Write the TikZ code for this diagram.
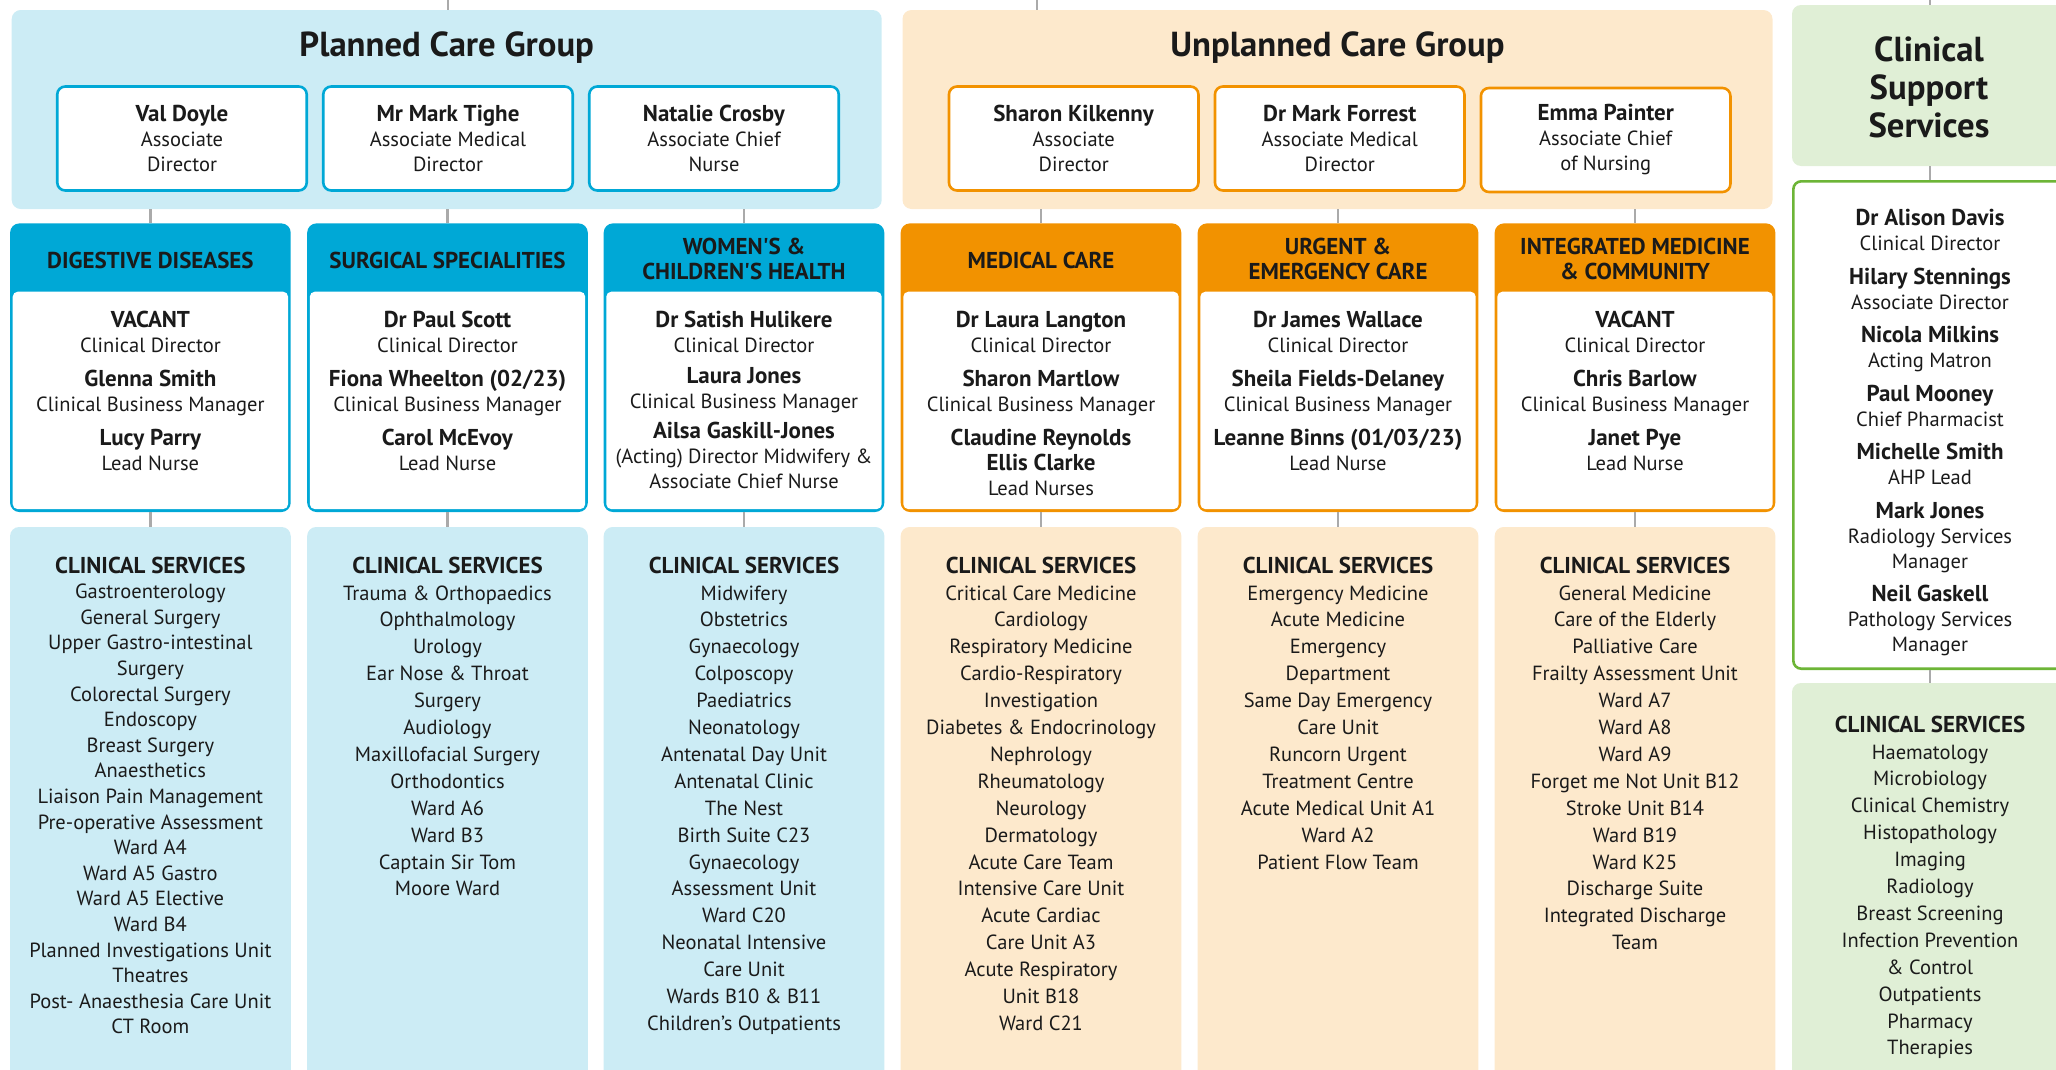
\documentclass[tikz,border=0pt]{standalone}
\usepackage{fontspec}
\setmainfont{PT Sans}[Ligatures=TeXOff, BoldFeatures={Scale=1.12}]
\usetikzlibrary{positioning}

\definecolor{planbg}{HTML}{CCECF5}
\definecolor{planhd}{HTML}{00A8D6}
\definecolor{unplbg}{HTML}{FDE9CC}
\definecolor{unplhd}{HTML}{F29200}
\definecolor{suppbg}{HTML}{E0EFD6}
\definecolor{suppln}{HTML}{6DB537}
\definecolor{linkgray}{HTML}{AAAAAA}
\definecolor{ink}{HTML}{1A1A1A}

\tikzset{
    linkline/.style={linkgray, line width=2.2pt},
    groupbox/.style={fill=#1, rounded corners=9pt, inner sep=0pt,
        minimum width=870pt, minimum height=199pt},
    grouptitle/.style={inner sep=0pt, text=ink, align=center,
        font=\fontsize{31}{38}\selectfont\bfseries},
    leadbox/.style={draw=#1, fill=white, line width=2.6pt, rounded corners=8pt,
        inner sep=0pt, minimum width=249.5pt, minimum height=104pt,
        align=center, text=ink, font=\fontsize{20.5}{25}\selectfont},
    divframe/.style={draw=#1, fill=#1, line width=2.6pt, rounded corners=8pt,
        inner sep=0pt, minimum width=278pt, minimum height=286pt},
    divbody/.style={fill=white, rounded corners=5pt, inner sep=0pt,
        minimum width=275.4pt, minimum height=217.4pt},
    divhead/.style={inner sep=0pt, align=center, text=ink,
        font=\fontsize{20.5}{25.7}\selectfont\bfseries},
    servbox/.style={fill=#1, rounded corners=9pt, inner sep=0pt,
        minimum width=280.7pt, minimum height=560pt},
    people/.style={anchor=north, inner sep=0pt, align=center, text=ink,
        font=\fontsize{20.5}{25}\selectfont},
    servlist/.style={anchor=north, inner sep=0pt, align=center, text=ink,
        font=\fontsize{20.5}{#1}\selectfont},
    servlist/.default=26.9,
}

\begin{document}
\begin{tikzpicture}[x=1pt,y=1pt]
\useasboundingbox (0,0) rectangle (2056,-1069);
\clip (0,0) rectangle (2056,-1069);

% care groups
\node[groupbox=planbg] (pcg) at (446.7,-109.5) {};
\node[grouptitle, anchor=base] (pcgt) at (446.7,-56.7) {Planned Care Group};
\node[groupbox=unplbg] (ucg) at (1337.5,-109.5) {};
\node[grouptitle, anchor=base] (ucgt) at (1337.5,-56.7) {Unplanned Care Group};
\node[fill=suppbg, rounded corners=9pt, minimum width=276pt, minimum height=161pt] (css) at (1930,-85.5) {};
\node[grouptitle, anchor=north] (csst) at (1929,-36.5) {Clinical\\Support\\Services};

% triumvirates
\node[leadbox=planhd] (vd) at (182,-138.5) {\textbf{Val Doyle}\\Associate\\Director};
\node[leadbox=planhd] (mt) at (448,-138.5) {\textbf{Mr Mark Tighe}\\Associate Medical\\Director};
\node[leadbox=planhd] (nc) at (714,-138.5) {\textbf{Natalie Crosby}\\Associate Chief\\Nurse};
\node[leadbox=unplhd] (sk) at (1073.7,-138.5) {\textbf{Sharon Kilkenny}\\Associate\\Director};
\node[leadbox=unplhd] (mf) at (1339.7,-138.5) {\textbf{Dr Mark Forrest}\\Associate Medical\\Director};
\node[leadbox=unplhd] (ep) at (1605.7,-140) {\textbf{Emma Painter}\\Associate Chief\\of Nursing};

% divisions
\node[divframe=planhd] (dd) at (150.4,-367.7) {};
\node[divbody] at (150.4,-400.4) {};
\node[divhead] at (150.4,-260.2) {DIGESTIVE DISEASES};
\node[people] (ddp) at (150.4,-311) {\textbf{VACANT}\\Clinical Director\\[9pt]
    \textbf{Glenna Smith}\\Clinical Business Manager\\[9pt]
    \textbf{Lucy Parry}\\Lead Nurse};

\node[divframe=planhd] (ss) at (447.5,-367.7) {};
\node[divbody] at (447.5,-400.4) {};
\node[divhead] at (447.5,-260.2) {SURGICAL SPECIALITIES};
\node[people] (ssp) at (447.5,-311) {\textbf{Dr Paul Scott}\\Clinical Director\\[9pt]
    \textbf{Fiona Wheelton (02/23)}\\Clinical Business Manager\\[9pt]
    \textbf{Carol McEvoy}\\Lead Nurse};

\node[divframe=planhd] (wch) at (744,-367.7) {};
\node[divbody] at (744,-400.4) {};
\node[divhead] at (744,-259) {WOMEN'S \&\\CHILDREN'S HEALTH};
\node[people] (wchp) at (744,-311) {\textbf{Dr Satish Hulikere}\\Clinical Director\\[6pt]
    \textbf{Laura Jones}\\Clinical Business Manager\\[5pt]
    \textbf{Ailsa Gaskill-Jones}\\(Acting) Director Midwifery \&\\Associate Chief Nurse};

\node[divframe=unplhd] (mc) at (1041,-367.7) {};
\node[divbody] at (1041,-400.4) {};
\node[divhead] at (1041,-260.2) {MEDICAL CARE};
\node[people] (mcp) at (1041,-311) {\textbf{Dr Laura Langton}\\Clinical Director\\[9pt]
    \textbf{Sharon Martlow}\\Clinical Business Manager\\[9pt]
    \textbf{Claudine Reynolds}\\\textbf{Ellis Clarke}\\Lead Nurses};

\node[divframe=unplhd] (uec) at (1338,-367.7) {};
\node[divbody] at (1338,-400.4) {};
\node[divhead] at (1338,-259) {URGENT \&\\EMERGENCY CARE};
\node[people] (uecp) at (1338,-311) {\textbf{Dr James Wallace}\\Clinical Director\\[9pt]
    \textbf{Sheila Fields-Delaney}\\Clinical Business Manager\\[9pt]
    \textbf{Leanne Binns (01/03/23)}\\Lead Nurse};

\node[divframe=unplhd] (imc) at (1635,-367.7) {};
\node[divbody] at (1635,-400.4) {};
\node[divhead] at (1635,-259) {INTEGRATED MEDICINE\\\& COMMUNITY};
\node[people] (imcp) at (1635,-311) {\textbf{VACANT}\\Clinical Director\\[9pt]
    \textbf{Chris Barlow}\\Clinical Business Manager\\[9pt]
    \textbf{Janet Pye}\\Lead Nurse};

% clinical support team
\node[draw=suppln, fill=white, line width=2.6pt, rounded corners=8pt,
    minimum width=273.4pt, minimum height=487.4pt] (cssp) at (1930,-425) {};
\node[people] at (1930,-209) {\textbf{Dr Alison Davis}\\Clinical Director\\[8.5pt]
    \textbf{Hilary Stennings}\\Associate Director\\[8.5pt]
    \textbf{Nicola Milkins}\\Acting Matron\\[8.5pt]
    \textbf{Paul Mooney}\\Chief Pharmacist\\[8.5pt]
    \textbf{Michelle Smith}\\AHP Lead\\[8.5pt]
    \textbf{Mark Jones}\\Radiology Services\\Manager\\[8.5pt]
    \textbf{Neil Gaskell}\\Pathology Services\\Manager};

% clinical services
\node[servbox=planbg] (ddsv) at (150.4,-807) {};
\node[servlist=25.6] at (150.4,-556.5) {\textbf{CLINICAL SERVICES}\\Gastroenterology\\General Surgery\\
    Upper Gastro-intestinal\\Surgery\\Colorectal Surgery\\Endoscopy\\Breast Surgery\\Anaesthetics\\
    Liaison Pain Management\\Pre-operative Assessment\\Ward A4\\Ward A5 Gastro\\Ward A5 Elective\\
    Ward B4\\Planned Investigations Unit\\Theatres\\Post- Anaesthesia Care Unit\\CT Room};

\node[servbox=planbg] (sssv) at (447.5,-807) {};
\node[servlist] at (447.5,-556.5) {\textbf{CLINICAL SERVICES}\\Trauma \& Orthopaedics\\Ophthalmology\\
    Urology\\Ear Nose \& Throat\\Surgery\\Audiology\\Maxillofacial Surgery\\Orthodontics\\
    Ward A6\\Ward B3\\Captain Sir Tom\\Moore Ward};

\node[servbox=planbg] (wchsv) at (744,-807) {};
\node[servlist] at (744,-556.5) {\textbf{CLINICAL SERVICES}\\Midwifery\\Obstetrics\\Gynaecology\\
    Colposcopy\\Paediatrics\\Neonatology\\Antenatal Day Unit\\Antenatal Clinic\\The Nest\\
    Birth Suite C23\\Gynaecology\\Assessment Unit\\Ward C20\\Neonatal Intensive\\Care Unit\\
    Wards B10 \& B11\\Children’s Outpatients};

\node[servbox=unplbg] (mcsv) at (1041,-807) {};
\node[servlist] at (1041,-556.5) {\textbf{CLINICAL SERVICES}\\Critical Care Medicine\\Cardiology\\
    Respiratory Medicine\\Cardio-Respiratory\\Investigation\\Diabetes \& Endocrinology\\
    Nephrology\\Rheumatology\\Neurology\\Dermatology\\Acute Care Team\\Intensive Care Unit\\
    Acute Cardiac\\Care Unit A3\\Acute Respiratory\\Unit B18\\Ward C21};

\node[servbox=unplbg] (uecsv) at (1338,-807) {};
\node[servlist] at (1338,-556.5) {\textbf{CLINICAL SERVICES}\\Emergency Medicine\\Acute Medicine\\
    Emergency\\Department\\Same Day Emergency\\Care Unit\\Runcorn Urgent\\Treatment Centre\\
    Acute Medical Unit A1\\Ward A2\\Patient Flow Team};

\node[servbox=unplbg] (imcsv) at (1635,-807) {};
\node[servlist] at (1635,-556.5) {\textbf{CLINICAL SERVICES}\\General Medicine\\Care of the Elderly\\
    Palliative Care\\Frailty Assessment Unit\\Ward A7\\Ward A8\\Ward A9\\Forget me Not Unit B12\\
    Stroke Unit B14\\Ward B19\\Ward K25\\Discharge Suite\\Integrated Discharge\\Team};

\node[servbox=suppbg, minimum width=276pt, minimum height=402pt] (csssv) at (1930,-884) {};
\node[servlist] at (1930,-715.5) {\textbf{CLINICAL SERVICES}\\Haematology\\Microbiology\\
    Clinical Chemistry\\Histopathology\\Imaging\\Radiology\\Breast Screening\\
    Infection Prevention\\\& Control\\Outpatients\\Pharmacy\\Therapies};

% reporting lines
\coordinate (pcgin) at (448,0);
\coordinate (ucgin) at (1037,0);
\coordinate (cssin) at (1930,0);
\draw[linkline] (pcgin) -- (pcgin |- pcg.north);
\draw[linkline] (ucgin) -- (ucgin |- ucg.north);
\draw[linkline] (cssin) -- (css.north);
\draw[linkline] (pcg.south -| dd.north) -- (dd.north);
\draw[linkline] (pcg.south -| ss.north) -- (ss.north);
\draw[linkline] (pcg.south -| wch.north) -- (wch.north);
\draw[linkline] (ucg.south -| mc.north) -- (mc.north);
\draw[linkline] (ucg.south -| uec.north) -- (uec.north);
\draw[linkline] (ucg.south -| imc.north) -- (imc.north);
\draw[linkline] (dd.south) -- (ddsv.north);
\draw[linkline] (ss.south) -- (sssv.north);
\draw[linkline] (wch.south) -- (wchsv.north);
\draw[linkline] (mc.south) -- (mcsv.north);
\draw[linkline] (uec.south) -- (uecsv.north);
\draw[linkline] (imc.south) -- (imcsv.north);
\draw[linkline] (css.south) -- (cssp.north);
\draw[linkline] (cssp.south) -- (csssv.north);
\end{tikzpicture}
\end{document}
